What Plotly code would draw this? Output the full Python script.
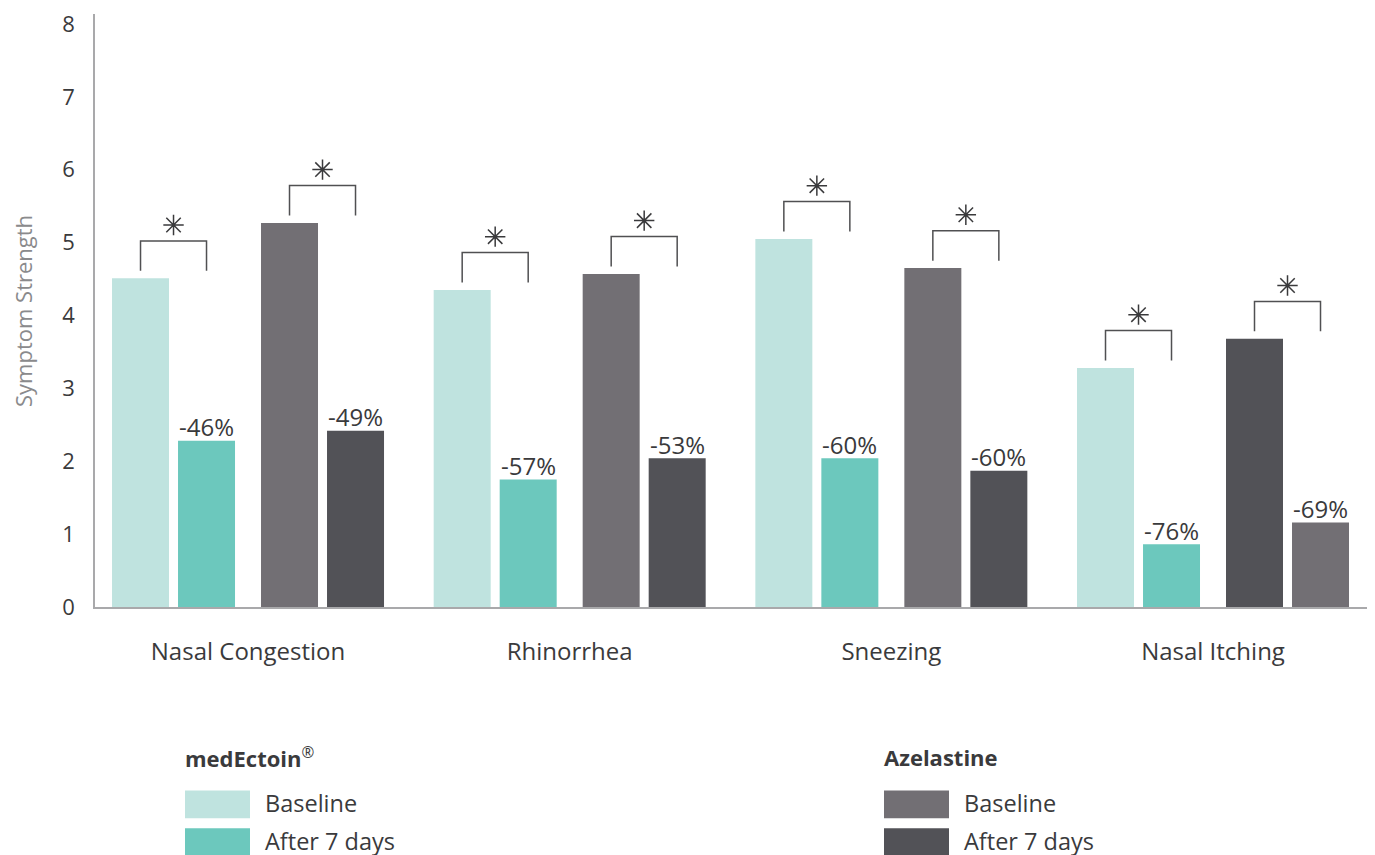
import plotly.graph_objects as go

# ---- data ----
categories = ["Nasal Congestion", "Rhinorrhea", "Sneezing", "Nasal Itching"]
medectoin_baseline = [4.51, 4.35, 5.05, 3.28]
medectoin_after = [2.28, 1.75, 2.04, 0.86]
azelastine_baseline = [5.27, 4.57, 4.65, 3.68]
azelastine_after = [2.42, 2.04, 1.87, 1.16]
medectoin_change = ["-46%", "-57%", "-60%", "-76%"]
azelastine_change = ["-49%", "-53%", "-60%", "-69%"]
y_ticks = [0, 1, 2, 3, 4, 5, 6, 7, 8]

# ---- styling ----
C_ME_BASE = "#bfe3df"
C_ME_AFTER = "#6cc8bd"
C_AZ_LIGHT = "#726f74"
C_AZ_DARK = "#525257"
TXT = "#3a3a3c"
FONT = "Open Sans"

# page body has an 8px margin; lay out in window pixels
BODY = 8
WIN_W, WIN_H = 1375, 855
W, H = WIN_W - BODY, WIN_H - BODY
PLOT_L, PLOT_R, PLOT_T, PLOT_B = 95, 1375, 12, 607  # window pixels
ML = PLOT_L - BODY
MT = PLOT_T - BODY
MR = WIN_W - PLOT_R
MB = WIN_H - PLOT_B
plot_w = PLOT_R - PLOT_L
plot_h = PLOT_B - PLOT_T
Y_MAX = 8 * plot_h / (PLOT_B - 22)
pxu = plot_h / Y_MAX  # pixels per data unit

X_MIN, X_MAX = -0.4757, 3.5036
bar_w = 0.1772
offsets = [-0.4228, -0.2176, 0.0404, 0.2456]

xs = list(range(len(categories)))

# Azelastine colours swap in the last group
az_base_colors = [C_AZ_LIGHT, C_AZ_LIGHT, C_AZ_LIGHT, C_AZ_DARK]
az_after_colors = [C_AZ_DARK, C_AZ_DARK, C_AZ_DARK, C_AZ_LIGHT]

fig = go.Figure()

series = [
    (medectoin_baseline, offsets[0], [C_ME_BASE] * 4),
    (medectoin_after, offsets[1], [C_ME_AFTER] * 4),
    (azelastine_baseline, offsets[2], az_base_colors),
    (azelastine_after, offsets[3], az_after_colors),
]
for vals, off, cols in series:
    fig.add_trace(go.Bar(
        x=xs, y=vals, offset=off, width=bar_w,
        marker=dict(color=cols, line=dict(width=0)),
        showlegend=False, hoverinfo="skip",
    ))

annotations = []

# percentage change labels above the "after" bars
for vals, off, labels in [(medectoin_after, offsets[1], medectoin_change),
                          (azelastine_after, offsets[3], azelastine_change)]:
    for i, (v, lab) in enumerate(zip(vals, labels)):
        annotations.append(dict(
            x=i + off + bar_w / 2, y=v, xref="x", yref="y", text=lab,
            showarrow=False, xanchor="center", yanchor="middle", yshift=14,
            font=dict(family=FONT, size=24, color=TXT)))

# ---- significance brackets ----
gap = 7.5 / pxu
hgt = 30 / pxu
star_off = 16 / pxu
for base_vals, off_b, off_a in [(medectoin_baseline, offsets[0], offsets[1]),
                                (azelastine_baseline, offsets[2], offsets[3])]:
    bx, by, sx, sy = [], [], [], []
    for i, v in enumerate(base_vals):
        xl = i + off_b + bar_w / 2
        xr = i + off_a + bar_w / 2
        y0 = v + gap
        y1 = v + gap + hgt
        bx += [xl, xl, xr, xr, None]
        by += [y0, y1, y1, y0, None]
        sx.append((xl + xr) / 2)
        sy.append(y1 + star_off)
    fig.add_trace(go.Scatter(x=bx, y=by, mode="lines",
                             line=dict(color="#505052", width=1.5),
                             showlegend=False, hoverinfo="skip", cliponaxis=False))
    fig.add_trace(go.Scatter(x=sx, y=sy, mode="markers",
                             marker=dict(symbol="asterisk-open", size=17,
                                         color="#3a3a3c",
                                         line=dict(color="#3a3a3c", width=1.5)),
                             showlegend=False, hoverinfo="skip", cliponaxis=False))

# ---- helpers: window pixels -> paper coords ----
def px_x(px):
    return (px - PLOT_L) / plot_w

def px_y(py):
    return (PLOT_B - py) / plot_h

shapes = []

# y-axis title
annotations.append(dict(
    x=px_x(23), y=px_y(310), xref="paper", yref="paper",
    text="Symptom Strength", textangle=-90, showarrow=False,
    font=dict(family=FONT, size=22, color="#8a8a8c"),
    xanchor="center", yanchor="middle"))

# ---- custom legend ----
legend_groups = [
    (185, "<b>medEctoin</b><sup>®</sup>", [("Baseline", C_ME_BASE), ("After 7 days", C_ME_AFTER)]),
    (884, "<b>Azelastine</b>", [("Baseline", C_AZ_LIGHT), ("After 7 days", C_AZ_DARK)]),
]
row_tops = [791, 829]
for lx, title, items in legend_groups:
    annotations.append(dict(
        x=px_x(lx - 2), y=px_y(758), xref="paper", yref="paper", text=title,
        showarrow=False, xanchor="left", yanchor="middle",
        font=dict(family=FONT, size=22, color=TXT)))
    for (label, col), top in zip(items, row_tops):
        shapes.append(dict(type="rect", xref="paper", yref="paper",
                           x0=px_x(lx), x1=px_x(lx + 65),
                           y0=px_y(top + 28), y1=px_y(top),
                           fillcolor=col, line=dict(width=0)))
        annotations.append(dict(
            x=px_x(lx + 78), y=px_y(top + 13), xref="paper", yref="paper",
            text=label, showarrow=False, xanchor="left", yanchor="middle",
            font=dict(family=FONT, size=23.5, color=TXT)))

fig.update_layout(
    width=W, height=H,
    margin=dict(l=ML, r=MR, t=MT, b=MB, pad=0),
    paper_bgcolor="white", plot_bgcolor="white",
    font=dict(family=FONT, color=TXT),
    barmode="overlay",
    shapes=shapes, annotations=annotations,
    xaxis=dict(range=[X_MIN, X_MAX], tickvals=xs, ticktext=categories,
               showgrid=False, zeroline=False, showline=True,
               linecolor="#a9a9ab", linewidth=2, ticks="",
               ticklabelstandoff=22,
               tickfont=dict(family=FONT, size=24, color=TXT), fixedrange=True),
    yaxis=dict(range=[0, Y_MAX], tickvals=y_ticks,
               showgrid=False, zeroline=False, showline=True,
               linecolor="#a9a9ab", linewidth=1.5, ticks="",
               ticklabelstandoff=14, ticklabeloverflow="allow",
               tickfont=dict(family=FONT, size=22, color=TXT), fixedrange=True),
)

fig.write_html("out.html")
